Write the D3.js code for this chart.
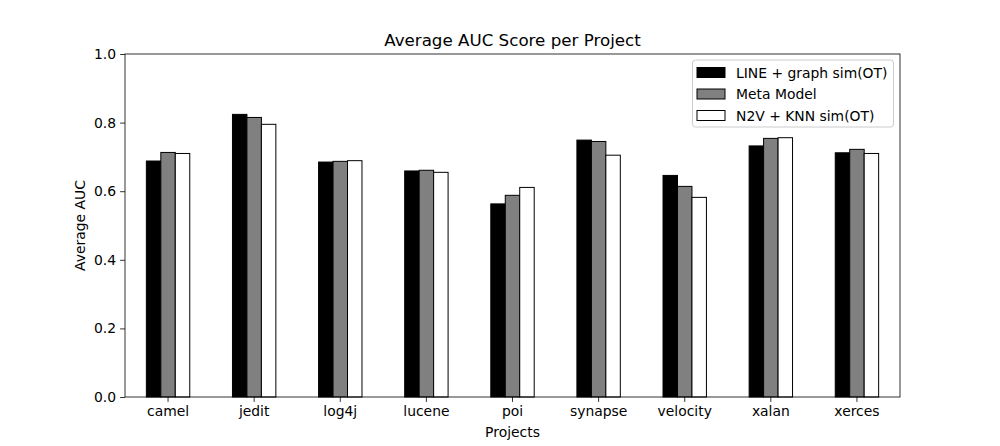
<!DOCTYPE html>
<html><head><meta charset="utf-8">
<script src="https://cdn.jsdelivr.net/npm/d3@7"></script>
<style>body{margin:0;background:#fff}svg{display:block}text{font-family:"DejaVu Sans",sans-serif;fill:#000}</style>
</head><body><svg id="c" width="1000" height="446"></svg>
<script>
const categories = ["camel","jedit","log4j","lucene","poi","synapse","velocity","xalan","xerces"];
const seriesNames = ["LINE + graph sim(OT)","Meta Model","N2V + KNN sim(OT)"];
const seriesColors = ["#000000","#808080","#ffffff"];
const lineGraph = [0.688,0.824,0.685,0.659,0.563,0.749,0.646,0.732,0.712];
const metaModel = [0.713,0.815,0.687,0.661,0.588,0.745,0.614,0.754,0.722];
const n2vKnn   = [0.710,0.795,0.689,0.655,0.611,0.705,0.582,0.756,0.710];
const yTicks = [0.0,0.2,0.4,0.6,0.8,1.0];
const series = [lineGraph, metaModel, n2vKnn];

const svg = d3.select("#c");
const L=125,R=900,T=54,B=397;
const x = d3.scaleBand().domain(categories).range([L,R]).padding(0);
const y = d3.scaleLinear().domain([0,1]).range([B,T]);
const bw = x.bandwidth()*0.168;

series.forEach((vals,si)=>{
  svg.append("g").selectAll("rect").data(vals).join("rect")
    .attr("x",(d,i)=>x(categories[i])+x.bandwidth()/2 + (si-1.5)*bw)
    .attr("y",d=>y(d)).attr("width",bw).attr("height",d=>y(0)-y(d))
    .attr("fill",seriesColors[si]).attr("stroke","#000").attr("stroke-width",1);
});

const yAxis = svg.append("g").attr("transform",`translate(${L},0)`)
  .call(d3.axisLeft(y).tickValues(yTicks).tickFormat(d3.format(".1f")).tickSizeOuter(0).tickSize(4.9).tickPadding(4));
const xAxis = svg.append("g").attr("transform",`translate(0,${B})`)
  .call(d3.axisBottom(x).tickSizeOuter(0).tickSize(4.9).tickPadding(4));
[xAxis,yAxis].forEach(a=>{a.selectAll("text").style("font-size","13.9px").attr("fill","#000");a.select(".domain").remove();a.selectAll("line").attr("stroke","#000").attr("stroke-width",0.8);});

svg.append("rect").attr("x",L).attr("y",T).attr("width",R-L).attr("height",B-T)
  .attr("fill","none").attr("stroke","#000").attr("stroke-width",0.8);

svg.append("text").attr("x",(L+R)/2).attr("y",T-8).attr("text-anchor","middle").style("font-size","16.7px").text("Average AUC Score per Project");
svg.append("text").attr("x",(L+R)/2).attr("y",437).attr("text-anchor","middle").style("font-size","13.9px").text("Projects");
svg.append("text").attr("transform",`translate(85,${(T+B)/2}) rotate(-90)`).attr("text-anchor","middle").style("font-size","13.9px").text("Average AUC");

const lg = svg.append("g");
lg.append("rect").attr("x",692.5).attr("y",60).attr("width",201).attr("height",67).attr("rx",3)
  .attr("fill","#fff").attr("fill-opacity",0.8).attr("stroke","#cccccc").attr("stroke-width",1);
seriesNames.forEach((n,i)=>{
  const cy = 72.5 + i*21.5;
  lg.append("rect").attr("x",697).attr("y",cy-5).attr("width",28).attr("height",10)
    .attr("fill",seriesColors[i]).attr("stroke","#000").attr("stroke-width",1);
  lg.append("text").attr("x",736).attr("y",cy+5).style("font-size","13.9px").text(n);
});
</script></body></html>
